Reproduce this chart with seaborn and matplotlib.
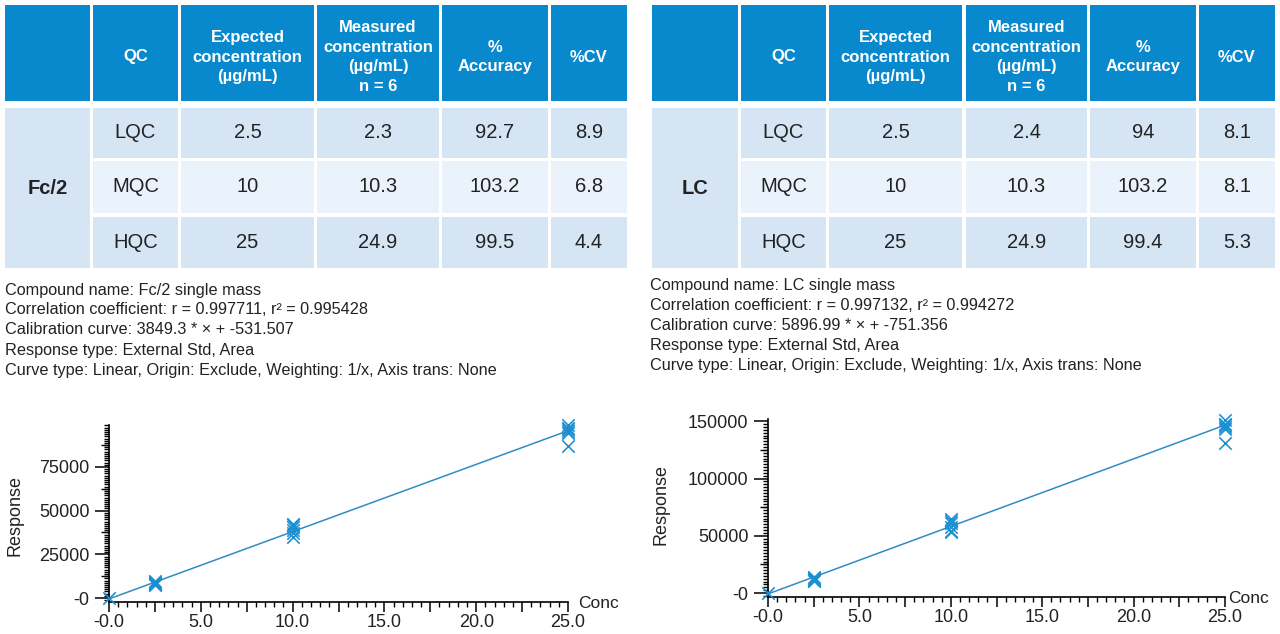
import matplotlib
matplotlib.use("Agg")
import matplotlib.pyplot as plt
from matplotlib.patches import Rectangle
from matplotlib.ticker import MultipleLocator, FuncFormatter, FixedLocator, NullLocator
import seaborn as sns
import numpy as np

sns.set_theme(style="white")
plt.rcParams['font.family'] = ['Liberation Sans', 'DejaVu Sans']

# ---------------- data ----------------
headers = ["", "QC", "Expected\nconcentration\n(µg/mL)",
           "Measured\nconcentration\n(µg/mL)\nn = 6", "%\nAccuracy", "%CV"]
qc_labels = ["LQC", "MQC", "HQC"]
expected = ["2.5", "10", "25"]

fc_name = "Fc/2"
fc_measured = ["2.3", "10.3", "24.9"]
fc_accuracy = ["92.7", "103.2", "99.5"]
fc_cv = ["8.9", "6.8", "4.4"]

lc_name = "LC"
lc_measured = ["2.4", "10.3", "24.9"]
lc_accuracy = ["94", "103.2", "99.4"]
lc_cv = ["8.1", "8.1", "5.3"]

fc_info = ["Compound name: Fc/2 single mass",
           "Correlation coefficient: r = 0.997711, r² = 0.995428",
           "Calibration curve: 3849.3 * × + -531.507",
           "Response type: External Std, Area",
           "Curve type: Linear, Origin: Exclude, Weighting: 1/x, Axis trans: None"]
lc_info = ["Compound name: LC single mass",
           "Correlation coefficient: r = 0.997132, r² = 0.994272",
           "Calibration curve: 5896.99 * × + -751.356",
           "Response type: External Std, Area",
           "Curve type: Linear, Origin: Exclude, Weighting: 1/x, Axis trans: None"]

conc = [0.0,
        2.5, 2.5, 2.5, 2.5, 2.5, 2.5,
        10.0, 10.0, 10.0, 10.0, 10.0, 10.0,
        25.0, 25.0, 25.0, 25.0, 25.0, 25.0]
fc_response = [0,
               7200, 7800, 8300, 8700, 9100, 9600,
               35000, 37000, 39000, 40500, 41500, 42500,
               87000, 94500, 95500, 96500, 97500, 99000]
lc_response = [0,
               10500, 11200, 11800, 12400, 13000, 13600,
               53000, 54500, 58000, 61000, 63000, 64500,
               131000, 143500, 145000, 146500, 148000, 151000]

fc_slope, fc_intercept = 3849.3, -531.507
lc_slope, lc_intercept = 5896.99, -751.356
line_conc = [0.0, 25.0]

# ---------------- style ----------------
W, H = 1280, 634
HEADER_BLUE = "#0989cd"
ROW_DARK = "#d5e5f4"
ROW_LIGHT = "#eaf3fb"
TEXT = "#222222"
MARK_BLUE = "#1c8fd0"
LINE_BLUE = "#2e8dc2"

fig = plt.figure(figsize=(W / 100, H / 100), dpi=100)
bg = fig.add_axes([0, 0, 1, 1])
bg.set_xlim(0, W)
bg.set_ylim(H, 0)
bg.axis('off')


def draw_table(col_edges, name, measured, accuracy, cv):
    head = (5, 101)
    rows = [(108, 158), (161, 213), (217, 268)]
    for (x0, x1), htxt in zip(col_edges, headers):
        bg.add_patch(Rectangle((x0, head[0]), x1 - x0, head[1] - head[0],
                               facecolor=HEADER_BLUE, edgecolor='none'))
        if htxt:
            bg.text((x0 + x1) / 2, 57, htxt, ha='center', va='center',
                    color='white', fontsize=12, fontweight='bold',
                    linespacing=1.38)
    # merged first column
    x0, x1 = col_edges[0]
    bg.add_patch(Rectangle((x0, rows[0][0]), x1 - x0, rows[-1][1] - rows[0][0],
                           facecolor=ROW_DARK, edgecolor='none'))
    bg.text((x0 + x1) / 2, (rows[0][0] + rows[-1][1]) / 2, name, ha='center',
            va='center', color=TEXT, fontsize=14.5, fontweight='bold')
    cols = [qc_labels, expected, measured, accuracy, cv]
    for r, (y0, y1) in enumerate(rows):
        fc = ROW_LIGHT if r == 1 else ROW_DARK
        for c, (xa, xb) in enumerate(col_edges[1:]):
            bg.add_patch(Rectangle((xa, y0), xb - xa, y1 - y0,
                                   facecolor=fc, edgecolor='none'))
            bg.text((xa + xb) / 2, (y0 + y1) / 2, cols[c][r], ha='center',
                    va='center', color=TEXT, fontsize=14.5)


left_cols = [(5, 90), (93, 178), (181, 314), (317, 439), (442, 548), (551, 627)]
right_cols = [(652, 738), (741, 826), (829, 962), (966, 1087), (1090, 1196), (1199, 1275)]
draw_table(left_cols, fc_name, fc_measured, fc_accuracy, fc_cv)
draw_table(right_cols, lc_name, lc_measured, lc_accuracy, lc_cv)

for i, line in enumerate(fc_info):
    bg.text(5, 290 + 20 * i, line, ha='left', va='center', color=TEXT, fontsize=11.7)
for i, line in enumerate(lc_info):
    bg.text(650, 285.5 + 20.1 * i, line, ha='left', va='center', color=TEXT, fontsize=11.7)


def calib_axes(px_left, px_right, px_top, px_bottom, ylim, ymajor, response,
               slope, intercept, ylabel_xy, conc_dx):
    ax = fig.add_axes([px_left / W, (H - px_bottom) / H,
                       (px_right - px_left) / W, (px_bottom - px_top) / H])
    ax.patch.set_alpha(0)
    line_resp = [slope * c + intercept for c in line_conc]
    sns.lineplot(x=line_conc, y=line_resp, ax=ax, color=LINE_BLUE, linewidth=1.1)
    sns.scatterplot(x=conc, y=response, ax=ax, marker='x', s=80, color=MARK_BLUE,
                    linewidth=1.15, clip_on=False, zorder=3)
    ax.set_xlim(0, 25)
    ax.set_ylim(*ylim)
    for s in ['top', 'right']:
        ax.spines[s].set_visible(False)
    for s in ['left', 'bottom']:
        ax.spines[s].set_color('black')
        ax.spines[s].set_linewidth(1.2)
    # x ticks
    ax.xaxis.set_major_locator(MultipleLocator(2.5))
    ax.xaxis.set_minor_locator(MultipleLocator(0.5))
    ax.xaxis.set_major_formatter(FuncFormatter(
        lambda v, p: ("-0.0" if abs(v) < 1e-9 else f"{v:.1f}") if abs(v / 5 - round(v / 5)) < 1e-6 else ""))
    ax.tick_params(axis='x', which='major', direction='out', length=7, width=1.1,
                   color='black', labelsize=13, labelcolor=TEXT, pad=2, bottom=True)
    ax.tick_params(axis='x', which='minor', direction='out', length=3.5, width=1,
                   color='black', bottom=True)
    # y ticks
    ax.yaxis.set_major_locator(MultipleLocator(ymajor))
    ax.yaxis.set_minor_locator(MultipleLocator(ymajor / 20))
    ax.yaxis.set_major_formatter(FuncFormatter(
        lambda v, p: "-0" if abs(v) < 1e-9 else f"{v:.0f}"))
    ax.tick_params(axis='y', which='major', direction='out', length=10, width=1.1,
                   color='black', labelsize=13, labelcolor=TEXT, pad=4, left=True)
    ax.tick_params(axis='y', which='minor', direction='out', length=3.5, width=1,
                   color='black', left=True)
    sec = ax.secondary_yaxis('left')
    lo, hi = ylim
    sec.yaxis.set_major_locator(FixedLocator(
        [v for v in np.arange(ymajor / 2, hi, ymajor)]))
    sec.yaxis.set_minor_locator(NullLocator())
    sec.tick_params(axis='y', which='major', direction='out', length=6, width=1,
                    color='black', labelleft=False)
    sec.spines['left'].set_visible(False)
    ax.set_xlabel("")
    ax.set_ylabel("Response", fontsize=13, color=TEXT)
    ax.yaxis.set_label_coords(*ylabel_xy)
    ax.annotate("Conc", xy=(1, 0), xycoords='axes fraction', xytext=(conc_dx, -2),
                textcoords='offset pixels', ha='left', va='center',
                fontsize=12.5, color=TEXT)
    return ax


calib_axes(109, 568, 425, 601.5, (-2000, 99000), 25000, fc_response,
           fc_slope, fc_intercept, (-0.187, 0.49), 10)
calib_axes(768, 1225, 419, 596.5, (-3000, 152000), 50000, lc_response,
           lc_slope, lc_intercept, (-0.215, 0.52), 3)

fig.savefig("out.png", dpi=100)
